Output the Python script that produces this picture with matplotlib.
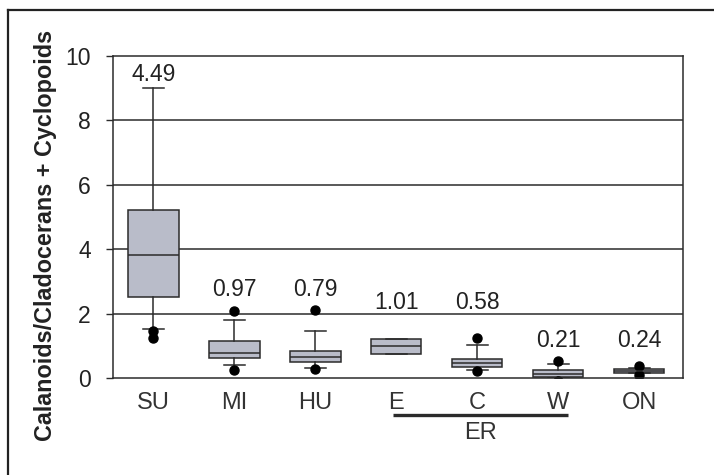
import matplotlib
matplotlib.use("Agg")
import matplotlib.pyplot as plt
from matplotlib.lines import Line2D
from matplotlib.transforms import blended_transform_factory

plt.rcParams["font.family"] = ["Liberation Sans", "DejaVu Sans"]

# ── Data ──────────────────────────────────────────────────────────────
groups = ["SU", "MI", "HU", "E", "C", "W", "ON"]
q1 = [2.52, 0.62, 0.50, 0.75, 0.35, 0.02, 0.16]
med = [3.82, 0.78, 0.65, 1.00, 0.47, 0.13, 0.22]
q3 = [5.22, 1.15, 0.83, 1.20, 0.60, 0.26, 0.28]
whislo = [1.52, 0.40, 0.30, 0.75, 0.25, 0.00, 0.15]
whishi = [9.00, 1.80, 1.45, 1.20, 1.02, 0.43, 0.31]
fliers = [[1.45, 1.25], [2.08, 0.25], [2.12, 0.28], [], [1.24, 0.22],
          [0.54, -0.08], [0.36, 0.10]]
ratio_labels = ["4.49", "0.97", "0.79", "1.01", "0.58", "0.21", "0.24"]
label_y = [9.41, 2.76, 2.76, 2.33, 2.33, 1.18, 1.18]
er_group = ("E", "W")

stats = [
    dict(label=g, q1=a, med=m, q3=b, whislo=lo, whishi=hi, fliers=f)
    for g, a, m, b, lo, hi, f in zip(groups, q1, med, q3, whislo, whishi, fliers)
]
pos = list(range(1, len(groups) + 1))

fig = plt.figure(figsize=(7.14, 4.75), dpi=100)
ax = fig.add_axes([113 / 714, 1 - 378 / 475, 570 / 714, 322 / 475])

dark = "#2b2b2b"
for yv in [2, 4, 6, 8]:
    ax.axhline(yv, color=dark, lw=1.1, zorder=0)

ax.bxp(
    stats, positions=pos, widths=0.62, capwidths=0.26, patch_artist=True,
    boxprops=dict(facecolor="#b9bcc9", edgecolor=dark, lw=1.1),
    medianprops=dict(color=dark, lw=1.1),
    whiskerprops=dict(color=dark, lw=1.1),
    capprops=dict(color=dark, lw=1.1),
    flierprops=dict(marker="o", markerfacecolor="black", markeredgecolor="black",
                    markersize=6.5),
    zorder=2,
)

for x, txt, yv in zip(pos, ratio_labels, label_y):
    ax.text(x, yv, txt, ha="center", va="center", fontsize=16.5, color="#222222")

ax.set_xlim(0.5, 7.54)
ax.set_ylim(0, 10)
ax.set_yticks([0, 2, 4, 6, 8, 10])
ax.tick_params(axis="y", length=5, width=1.0, color=dark, pad=11,
               labelsize=16.5, labelcolor="#222222")
ax.set_xticks(pos)
ax.set_xticklabels(groups)
ax.tick_params(axis="x", length=0, pad=10, labelsize=17, labelcolor="#333333")
for sp in ax.spines.values():
    sp.set_color(dark)
    sp.set_linewidth(1.1)

# ER bracket under E..W
trans = blended_transform_factory(ax.transData, ax.transAxes)
x0 = groups.index(er_group[0]) + 1
x1 = groups.index(er_group[1]) + 1
ax.plot([x0 - 0.04, x1 + 0.12], [-0.115, -0.115], color=dark, lw=2.4,
        transform=trans, clip_on=False, solid_capstyle="butt")
ax.text((x0 + x1) / 2 + 0.04, -0.17, "ER", transform=trans, ha="center",
        va="center", fontsize=17, color="#333333")

fig.text(0.064, 0.505, "Calanoids/Cladocerans + Cyclopoids", rotation=90,
         ha="center", va="center", fontsize=16.8, fontweight="bold", color="#222222")

# outer frame (left and top edges visible)
fig.add_artist(Line2D([8 / 714, 8 / 714], [0, 1 - 10 / 475], color="#222222",
                      lw=1.6, transform=fig.transFigure))
fig.add_artist(Line2D([8 / 714, 1], [1 - 10 / 475, 1 - 10 / 475], color="#222222",
                      lw=1.6, transform=fig.transFigure))

fig.savefig("out.png", dpi=100)
